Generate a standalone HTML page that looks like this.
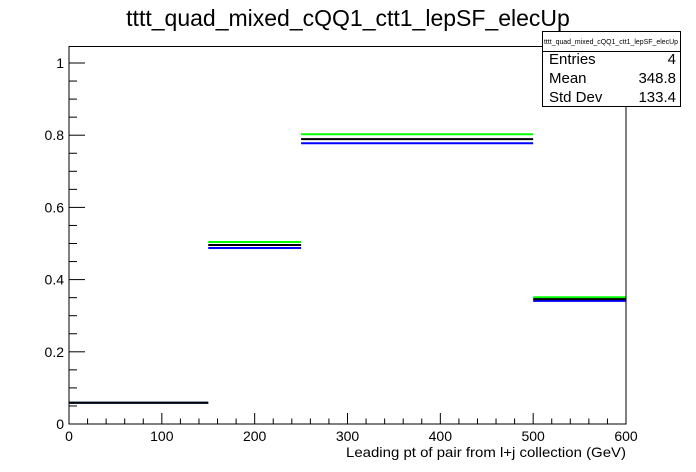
<!DOCTYPE html>
<html><head><meta charset="utf-8"><style>
html,body{margin:0;padding:0;background:#fff;}
svg{display:block;font-family:"Liberation Sans",Arial,sans-serif;}
</style></head><body>
<svg id="chart" width="696" height="472" viewBox="0 0 696 472">
<rect x="0" y="0" width="696" height="472" fill="#fff"/>
<text x="348" y="26" font-size="23" text-anchor="middle">tttt_quad_mixed_cQQ1_ctt1_lepSF_elecUp</text>
<g id="axes"></g>
<g id="series"></g>
<rect x="69" y="46.5" width="557" height="377.5" fill="none" stroke="#000" stroke-width="1"/>
<text x="346" y="457" font-size="14" textLength="280" lengthAdjust="spacingAndGlyphs">Leading pt of pair from l+j collection (GeV)</text>
<g>
<rect x="542.5" y="31.5" width="138" height="75" fill="#fff" stroke="#000"/>
<text x="544" y="44" font-size="7" textLength="134" lengthAdjust="spacingAndGlyphs">tttt_quad_mixed_cQQ1_ctt1_lepSF_elecUp</text>
<line x1="542.5" y1="51.5" x2="680.5" y2="51.5" stroke="#000"/>
<text x="549" y="64" font-size="15">Entries</text>
<text x="676" y="64" font-size="15" text-anchor="end">4</text>
<text x="549" y="83" font-size="15">Mean</text>
<text x="676" y="83" font-size="15" text-anchor="end">348.8</text>
<text x="549" y="102" font-size="15">Std Dev</text>
<text x="676" y="102" font-size="15" text-anchor="end">133.4</text>
</g>
</svg>
<script>
const binEdges = [0, 150, 250, 500, 600];
const greenValues = [0.059, 0.504, 0.8025, 0.351];
const blackValues = [0.059, 0.496, 0.789, 0.346];
const blueValues = [0.059, 0.4875, 0.7776, 0.341];
const xTickLabels = [0, 100, 200, 300, 400, 500, 600];
const yTickLabels = [0, 0.2, 0.4, 0.6, 0.8, 1];

const NS = "http://www.w3.org/2000/svg";
const X0 = 69, X1 = 626, Y0 = 424, PXPERY = 361;
function xs(v){ return X0 + (v - 0) / 600 * (X1 - X0); }
function ys(v){ return Y0 - v * PXPERY; }
function mk(tag, attrs, parent){
  const e = document.createElementNS(NS, tag);
  for (const k in attrs) e.setAttribute(k, attrs[k]);
  parent.appendChild(e); return e;
}
const axes = document.getElementById("axes");
const series = document.getElementById("series");

for (let v = 0; v <= 600; v += 20) {
  const major = v % 100 === 0;
  const t = mk("line", {x1: xs(v), x2: xs(v), y1: Y0, y2: Y0 - (major ? 11 : 5.5), stroke: "#000"}, axes);
  
  
}
xTickLabels.forEach(v => {
  const t = mk("text", {x: xs(v), y: 441, "font-size": 14, "text-anchor": "middle"}, axes);
  t.textContent = String(v);
  
  
});
for (let i = 0; i <= 20; i++) {
  const v = i * 0.05;
  if (ys(v) < 46) break;
  const major = i % 4 === 0;
  const t = mk("line", {x1: X0, x2: X0 + (major ? 16 : 8), y1: ys(v), y2: ys(v), stroke: "#000"}, axes);
  
  
}
yTickLabels.forEach(v => {
  const t = mk("text", {x: 64, y: ys(v) + 5, "font-size": 14, "text-anchor": "end"}, axes);
  t.textContent = String(v);
  
  
});

function drawSeries(vals, color, name){
  vals.forEach((v, i) => {
    const l = mk("line", {x1: xs(binEdges[i]), x2: xs(binEdges[i+1]), y1: ys(v), y2: ys(v), stroke: color, "stroke-width": 2}, series);
    
    
  });
}
drawSeries(greenValues, "#00ff00", "green-hist");
drawSeries(blueValues, "#0000ff", "blue-hist");
drawSeries(blackValues, "#000000", "black-hist");
</script>
</body></html>
